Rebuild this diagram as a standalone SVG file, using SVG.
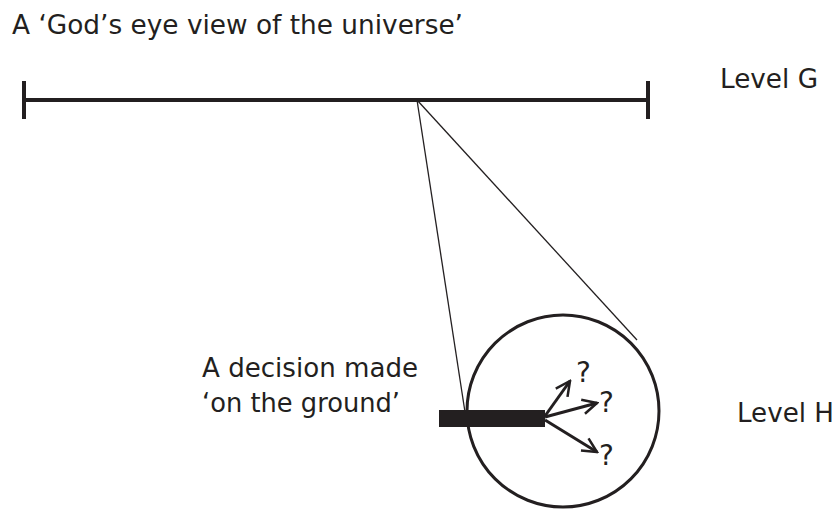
<svg xmlns="http://www.w3.org/2000/svg" width="838" height="509" viewBox="0 0 838 509">
<style>
text{font-family:"DejaVu Sans","Verdana",sans-serif;fill:#231f20;font-size:26px}
.q{font-size:28px}
.thick{stroke:#231f20;stroke-width:4;fill:none}
.thin{stroke:#231f20;stroke-width:1.3;fill:none}
.arr{stroke:#231f20;stroke-width:3;fill:none;marker-end:url(#ah)}
</style>
<defs>
<marker id="ah" viewBox="0 0 10 10" refX="9" refY="5" markerWidth="6" markerHeight="6" orient="auto" markerUnits="strokeWidth">
<path d="M1,1 L9,5 L1,9" fill="none" stroke="#231f20" stroke-width="1.4"/>
</marker>
</defs>
<rect width="838" height="509" fill="#fff"/>
<text x="12" y="34" textLength="451" lengthAdjust="spacingAndGlyphs">A ‘God’s eye view of the universe’</text>
<g id="levelG">
<line class="thick" x1="24" y1="100" x2="648" y2="100"/>
<line class="thick" x1="24" y1="81" x2="24" y2="119"/>
<line class="thick" x1="648" y1="81" x2="648" y2="119"/>
<text x="720" y="88" textLength="98" lengthAdjust="spacingAndGlyphs">Level G</text>
</g>
<g id="connectors">
<line class="thin" x1="417" y1="100" x2="465" y2="412"/>
<line class="thin" x1="417" y1="100" x2="637" y2="340"/>
</g>
<g id="levelH">
<circle cx="563" cy="411" r="96" fill="none" stroke="#231f20" stroke-width="3"/>
<rect x="439" y="410" width="106" height="17" fill="#231f20"/>
<line class="arr" x1="545" y1="416" x2="570" y2="381"/>
<line class="arr" x1="545" y1="417" x2="597" y2="403"/>
<line class="arr" x1="545" y1="420" x2="597" y2="452"/>
<text class="q" x="576" y="382">?</text>
<text class="q" x="599" y="412">?</text>
<text class="q" x="599" y="465">?</text>
<text x="737" y="422" textLength="97" lengthAdjust="spacingAndGlyphs">Level H</text>
</g>
<g id="decision">
<text x="202" y="377" textLength="216" lengthAdjust="spacingAndGlyphs">A decision made</text>
<text x="202" y="412" textLength="198" lengthAdjust="spacingAndGlyphs">‘on the ground’</text>
</g>
</svg>
